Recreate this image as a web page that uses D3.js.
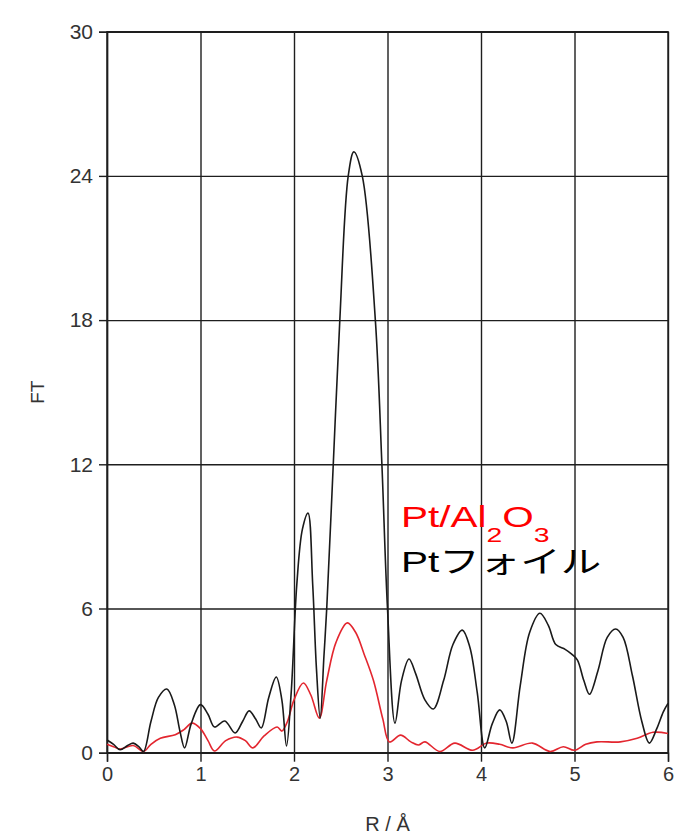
<!DOCTYPE html>
<html>
<head>
<meta charset="utf-8">
<script src="https://cdn.jsdelivr.net/npm/d3@7"></script>
<style>
  body { margin: 0; background: #fff; }
  .tick text { fill: #333; font-family: "Liberation Sans", Arial, sans-serif; }
</style>
</head>
<body>
<div id="vis"></div>
<script>
// frame
const FRAME_WIDTH = 689;
const FRAME_HEIGHT = 837;
const MARGINS = {left: 107, right: 21, top: 31.7, bottom: 84.3};
const VIS_WIDTH = FRAME_WIDTH - MARGINS.left - MARGINS.right;
const VIS_HEIGHT = FRAME_HEIGHT - MARGINS.top - MARGINS.bottom;

// tick labels
const X_TICKS = [0, 1, 2, 3, 4, 5, 6];
const Y_TICKS = [0, 6, 12, 18, 24, 30];

// Pt foil (black)
const foilR  = [0, 0.07, 0.14, 0.22, 0.28, 0.34, 0.39, 0.47, 0.55, 0.64, 0.72, 0.78, 0.83, 0.9, 1.0,
                1.08, 1.15, 1.26, 1.37, 1.45, 1.52, 1.59, 1.65, 1.73, 1.81, 1.87, 1.92, 1.97, 2.03, 2.09,
                2.15, 2.2, 2.24, 2.28, 2.32, 2.35, 2.42, 2.49, 2.58, 2.64, 2.73, 2.87, 2.94, 3.0, 3.08,
                3.15, 3.23, 3.3, 3.4, 3.49, 3.6, 3.7, 3.8, 3.88, 3.96, 4.04, 4.12, 4.2, 4.27, 4.33,
                4.42, 4.52, 4.63, 4.72, 4.8, 4.9, 4.97, 5.03, 5.1, 5.16, 5.25, 5.35, 5.44, 5.52, 5.62,
                5.72, 5.8, 5.88, 5.95, 6.0];
const foilFT = [0.53, 0.35, 0.12, 0.3, 0.4, 0.25, 0.05, 1.3, 2.3, 2.65, 2.0, 0.9, 0.2, 1.2, 2.0,
                1.6, 1.07, 1.32, 0.82, 1.3, 1.74, 1.4, 1.03, 2.3, 3.15, 2.2, 0.28, 2.5, 7.0, 9.3,
                9.97, 7.0, 3.5, 1.44, 4.0, 6.0, 12.0, 18.0, 24.0, 25.0, 24.0, 18.0, 12.0, 6.0, 1.23,
                3.0, 3.9, 3.3, 2.2, 1.82, 3.0, 4.5, 5.1, 4.4, 2.5, 0.2, 1.2, 1.78, 1.3, 0.4,
                2.8, 5.0, 5.8, 5.3, 4.5, 4.3, 4.1, 3.86, 3.0, 2.43, 3.4, 4.8, 5.15, 4.8, 3.2,
                1.3, 0.4, 1.0, 1.7, 2.05];

// Pt/Al2O3 (red)
const catR  = [0, 0.07, 0.14, 0.28, 0.39, 0.47, 0.57, 0.73, 0.82, 0.91, 1.0, 1.08, 1.15, 1.27, 1.39,
               1.48, 1.56, 1.68, 1.82, 1.87, 1.93, 2.0, 2.1, 2.18, 2.27, 2.35, 2.45, 2.57, 2.66, 2.75,
               2.85, 2.95, 3.02, 3.14, 3.25, 3.33, 3.4, 3.56, 3.72, 3.91, 4.06, 4.2, 4.34, 4.55, 4.74,
               4.88, 5.0, 5.12, 5.24, 5.49, 5.67, 5.84, 6.0];
const catFT = [0.35, 0.25, 0.15, 0.3, 0.05, 0.35, 0.6, 0.75, 0.95, 1.23, 1.0, 0.5, 0.07, 0.5, 0.65,
               0.5, 0.2, 0.7, 1.07, 0.9, 1.3, 2.2, 2.9, 2.4, 1.44, 3.0, 4.6, 5.4, 5.0, 4.1,
               3.0, 1.4, 0.45, 0.73, 0.45, 0.32, 0.45, 0.05, 0.4, 0.1, 0.4, 0.35, 0.2, 0.4, 0.05,
               0.25, 0.1, 0.35, 0.45, 0.45, 0.6, 0.85, 0.8];

const FRAME = d3.select("#vis")
                .append("svg")
                  .attr("width", FRAME_WIDTH)
                  .attr("height", FRAME_HEIGHT);

const X_SCALE = d3.scaleLinear().domain([0, 6]).range([0, VIS_WIDTH]);
const Y_SCALE = d3.scaleLinear().domain([0, 30]).range([VIS_HEIGHT, 0]);

const G = FRAME.append("g")
               .attr("transform", "translate(" + MARGINS.left + "," + MARGINS.top + ")");

// grid lines
G.append("g")
  .attr("class", "grid")
  .call(d3.axisLeft(Y_SCALE).tickValues(Y_TICKS).tickSize(-VIS_WIDTH).tickFormat(""))
  .call(g => g.select(".domain").remove())
  .selectAll("line").attr("stroke", "#1e1e1e").attr("stroke-width", 1.4);

G.append("g")
  .attr("class", "grid")
  .attr("transform", "translate(0," + VIS_HEIGHT + ")")
  .call(d3.axisBottom(X_SCALE).tickValues(X_TICKS).tickSize(-VIS_HEIGHT).tickFormat(""))
  .call(g => g.select(".domain").remove())
  .selectAll("line").attr("stroke", "#1e1e1e").attr("stroke-width", 1.4);

// axes
const yAxis = G.append("g")
  .call(d3.axisLeft(Y_SCALE).tickValues(Y_TICKS).tickSize(8).tickPadding(6).tickFormat(d3.format("d")));
yAxis.selectAll("text").attr("font-size", "21px");

const xAxis = G.append("g")
  .attr("transform", "translate(0," + VIS_HEIGHT + ")")
  .call(d3.axisBottom(X_SCALE).tickValues(X_TICKS).tickSize(9).tickPadding(5).tickFormat(d3.format("d")));
xAxis.selectAll("text").attr("font-size", "20px");

FRAME.selectAll(".domain, .tick line").attr("stroke", "#1e1e1e").attr("stroke-width", 1.4);

// border
G.append("rect")
  .attr("width", VIS_WIDTH)
  .attr("height", VIS_HEIGHT)
  .attr("fill", "none")
  .attr("stroke", "#1e1e1e")
  .attr("stroke-width", 1.4);

// curves
const line = d3.line()
  .x(d => X_SCALE(d[0]))
  .y(d => Y_SCALE(d[1]))
  .curve(d3.curveCatmullRom.alpha(0.5));

G.append("path")
  .datum(catR.map((r, i) => [r, catFT[i]]))
  .attr("d", line)
  .attr("fill", "none")
  .attr("stroke", "#e3262f")
  .attr("stroke-width", 1.6);

G.append("path")
  .datum(foilR.map((r, i) => [r, foilFT[i]]))
  .attr("d", line)
  .attr("fill", "none")
  .attr("stroke", "#1a1a1a")
  .attr("stroke-width", 1.6);

// axis titles
FRAME.append("text")
  .attr("transform", "translate(44," + (MARGINS.top + VIS_HEIGHT / 2) + ") rotate(-90)")
  .attr("text-anchor", "middle")
  .attr("font-family", "Liberation Sans, Arial, sans-serif")
  .attr("font-size", "19px")
  .attr("fill", "#333")
  .text("FT");

FRAME.append("text")
  .attr("x", MARGINS.left + VIS_WIDTH / 2)
  .attr("y", 831)
  .attr("text-anchor", "middle")
  .attr("font-family", "Liberation Sans, Arial, sans-serif")
  .attr("font-size", "20px")
  .attr("fill", "#333")
  .text("R / Å");

// legend
const legend1 = FRAME.append("text")
  .attr("transform", "translate(401,527) scale(1.35,1)")
  .attr("font-family", "Liberation Sans, Arial, sans-serif")
  .attr("font-size", "30px")
  .attr("fill", "#ff0000");
legend1.append("tspan").text("Pt/Al");
legend1.append("tspan").attr("font-size", "21px").attr("dy", 15).text("2");
legend1.append("tspan").attr("dy", -15).text("O");
legend1.append("tspan").attr("font-size", "21px").attr("dy", 15).text("3");

FRAME.append("text")
  .attr("transform", "translate(401,572) scale(1.35,1)")
  .attr("font-family", "Liberation Sans, 'Noto Sans CJK JP', sans-serif")
  .attr("font-size", "30px")
  .attr("fill", "#000")
  .text("Ptフォイル");
</script>
</body>
</html>
